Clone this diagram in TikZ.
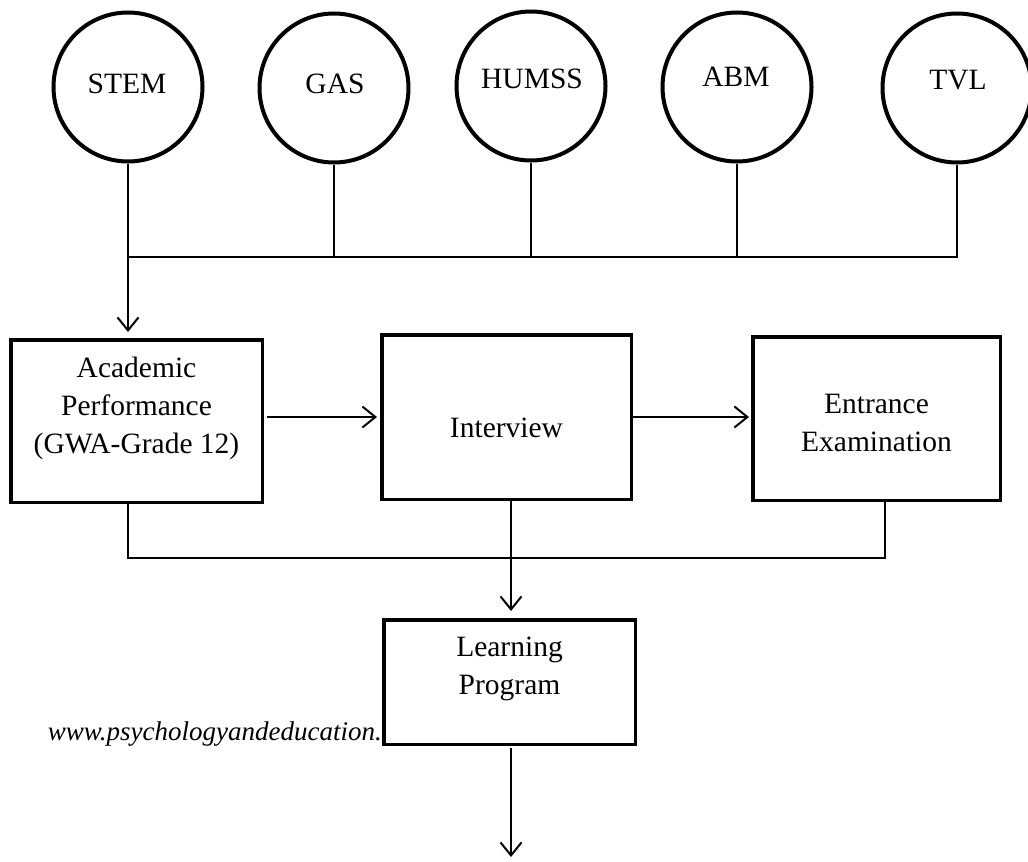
\documentclass[tikz,border=0pt]{standalone}
\usepackage{fontspec}
\setmainfont{Liberation Serif}
\usetikzlibrary{arrows.meta}
\begin{document}
\begin{tikzpicture}[x=1pt,y=-1pt,
  track/.style={circle,draw,line width=4pt,minimum size=149pt,inner sep=0pt},
  stepbox/.style={rectangle,draw,line width=3.5pt,inner sep=0pt},
  lbl/.style={font=\fontsize{29.5}{38}\selectfont,align=center,inner sep=0pt},
  conn/.style={line width=2pt},
  arr/.style={line width=2pt,-{Straight Barb[length=13pt,width=21pt,line width=2pt]}}]
\useasboundingbox (0,0) rectangle (1028,862);
% circles
\node[track] (stem) at (128,87) {};
\node[track] (gas) at (334,88) {};
\node[track] (humss) at (531,86) {};
\node[track] (abm) at (737,87) {};
\node[track] (tvl) at (957,88) {};
\node[lbl] (tstem) at (127,84) {STEM};
\node[lbl] (tgas) at (335,84) {GAS};
\node[lbl] (thumss) at (532,79) {HUMSS};
\node[lbl] (tabm) at (736,77) {ABM};
\node[lbl] (ttvl) at (958,80) {TVL};
% boxes
\node[stepbox,minimum width=251.5pt,minimum height=162.5pt] (ap) at (136.5,421) {};
\node[stepbox,minimum width=249.5pt,minimum height=164.5pt] (iv) at (506.5,417) {};
\node[stepbox,minimum width=247.5pt,minimum height=163.5pt] (ee) at (876.5,418.5) {};
\node[stepbox,minimum width=251.5pt,minimum height=124.5pt] (lp) at (509.5,682) {};
\node[lbl] (tap) at (136.5,408) {Academic\\Performance\\(GWA-Grade 12)};
\node[lbl] (tiv) at (506.5,428) {Interview};
\node[lbl] (tee) at (876.5,423) {Entrance\\Examination};
\node[lbl] (tlp) at (509.5,669) {Learning\\Program};
\node[font=\fontsize{27}{32}\selectfont\itshape,anchor=base east,inner sep=0pt] (wm) at (382,740) {www.psychologyandeducation.};
% bus
\coordinate (b1) at (128,257);
\coordinate (b5) at (957,257);
\draw[conn] (stem.south) -- (b1);
\draw[conn] (gas.south) -- (gas.south |- b1);
\draw[conn] (humss.south) -- (humss.south |- b1);
\draw[conn] (abm.south) -- (abm.south |- b1);
\draw[conn] (tvl.south) -- (b5) -- (b1);
\draw[arr,shorten >=6pt] (b1) -- (ap.north -| b1);
% horizontal arrows
\draw[arr,shorten >=3pt,shorten <=3pt] (ap.east |- iv.west) -- (iv.west);
\draw[arr,shorten >=2pt] (iv.east) -- (ee.west |- iv.east);
% bottom join
\coordinate (jl) at (128,558);
\coordinate (jr) at (885,558);
\draw[conn] (ap.south -| jl) -- (jl) -- (jr) -- (ee.south -| jr);
\coordinate (mx) at (511,0);
\draw[arr,shorten >=7pt] (iv.south -| mx) -- (lp.north -| mx);
\coordinate (end) at (511,857);
\draw[arr,shorten <=2pt] (lp.south -| mx) -- (end);
\end{tikzpicture}
\end{document}
